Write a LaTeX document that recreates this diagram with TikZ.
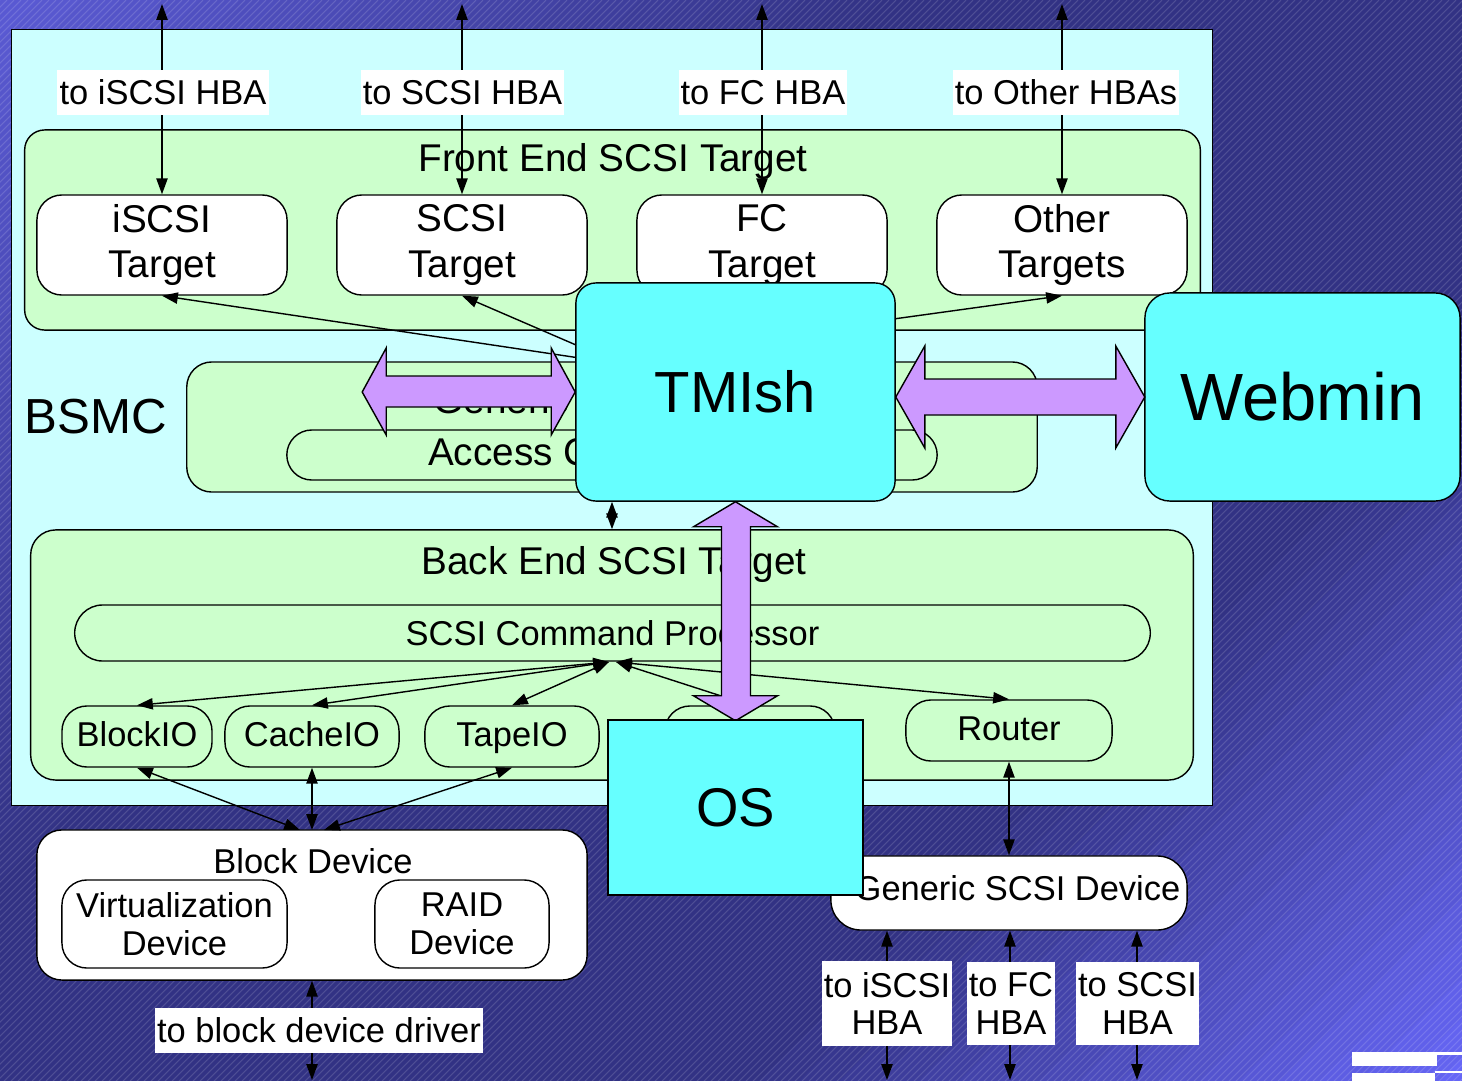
\documentclass[tikz,border=0pt]{standalone}
\usepackage{fontspec}
\setmainfont{Liberation Sans}
\usetikzlibrary{arrows.meta}

\definecolor{shellcyan}{HTML}{CCFFFF}
\definecolor{layergreen}{HTML}{CCFFCC}
\definecolor{mgmtcyan}{HTML}{66FFFF}
\definecolor{fatpurple}{HTML}{CC99FF}
\definecolor{bgtop}{RGB}{90,90,212}
\definecolor{bgmid}{RGB}{50,50,132}
\definecolor{bgbot}{RGB}{102,102,246}

\begin{document}
\begin{tikzpicture}[x=0.01cm, y=-0.01cm,
	>={Triangle[length=4.5pt,width=3.2pt]},
	every node/.style={inner sep=0pt, align=center, font=\fontsize{9.8}{10.8}\selectfont},
	shell/.style={draw=black, line width=0.4pt, fill=shellcyan},
	layer/.style={draw=black, line width=0.4pt, fill=layergreen, rounded corners=0.25cm},
	iobox/.style={layer, minimum height=0.61cm, text height=7pt, text depth=1.5pt},
	module/.style={draw=black, line width=0.4pt, fill=white, rounded corners=0.25cm},
	mgmt/.style={draw=black, line width=0.4pt, fill=mgmtcyan},
	hba/.style={fill=white, inner xsep=0.6pt, inner ysep=2.9pt, text height=7pt, text depth=0pt},
	hbapair/.style={fill=white, inner xsep=0.6pt, inner ysep=3pt},
	title/.style={anchor=base, font=\fontsize{11}{13}\selectfont},
	big/.style={font=\fontsize{11}{13}\selectfont},
	link/.style={line width=0.4pt, <->},
	oneway/.style={line width=0.4pt, ->},
	fat/.style={draw=black, line width=0.4pt, fill=fatpurple, line join=miter},
]
	% background
	\useasboundingbox (0,0) rectangle (1462,1081);
	\begin{scope}
		\clip (0,0) rectangle (1462,1081);
		\foreach \k in {0,...,31} {
			\pgfmathsetmacro{\s}{\k*40}
			\pgfmathtruncatemacro{\m}{min(100,100*((\k*40+20)/2543)/0.35)}
			\fill[bgmid!\m!bgtop] ({\s},0) -- ({\s+41},0) -- ({\s+41-1081},1081) -- ({\s-1081},1081) -- cycle;
		}
		\foreach \k in {32,...,63} {
			\pgfmathsetmacro{\s}{\k*40}
			\pgfmathtruncatemacro{\m}{min(100,100*(1-(\k*40+20)/2543)/0.28)}
			\fill[bgmid!\m!bgbot] ({\s},0) -- ({\s+41},0) -- ({\s+41-1081},1081) -- ({\s-1081},1081) -- cycle;
		}
		\foreach \i in {0,7,...,2548}
			\draw[white, opacity=0.14, line width=0.3pt] ({\i-1081},1081) -- (\i,0);
	\end{scope}
	\fill[white] (1352,1052) rectangle (1437,1066);
	\fill[white] (1437,1052) rectangle (1462,1055);
	\fill[white] (1435,1071) rectangle (1462,1073);
	\fill[white] (1352,1073) rectangle (1435,1081);

	% BSMC frame
	\node[shell, minimum width=12cm, minimum height=7.75cm] (bsmc) at (612,417.5) {};
	\node[anchor=base, font=\fontsize{14}{16}\selectfont] (bsmctext) at (96,433) {BSMC};

	% front end
	\node[layer, rounded corners=0.2cm, minimum width=11.75cm, minimum height=2cm] (frontend) at (612.5,230) {};
	\node[title] (fronttext) at (613,171) {Front End SCSI Target};
	\node[module, big, minimum width=2.5cm, minimum height=1cm] (iscsi) at (162,245) {iSCSI\\Target};
	\node[module, big, minimum width=2.5cm, minimum height=1cm] (scsi) at (462,245) {SCSI\\Target};
	\node[module, big, minimum width=2.5cm, minimum height=1cm] (fc) at (762,245) {FC\\Target};
	\node[module, big, minimum width=2.5cm, minimum height=1cm] (other) at (1062,245) {Other\\Targets};

	\coordinate (in1) at (162,4);
	\coordinate (in2) at (462,4);
	\coordinate (in3) at (762,4);
	\coordinate (in4) at (1062,4);
	\draw[link] (iscsi.north) -- (in1);
	\draw[link] (scsi.north) -- (in2);
	\draw[link] (fc.north) -- (in3);
	\draw[link] (other.north) -- (in4);
	\node[hba] (hba1) at (163,92.5) {to iSCSI HBA};
	\node[hba] (hba2) at (462.5,92.5) {to SCSI HBA};
	\node[hba] (hba3) at (763,92.5) {to FC HBA};
	\node[hba] (hba4) at (1066,92.5) {to Other HBAs};

	% generic layer
	\node[layer, minimum width=8.5cm, minimum height=1.3cm] (generic) at (612,427) {};
	\node[title, anchor=base west] (generictext) at (433,413) {Generic};
	\node[layer, big, minimum width=6.5cm, minimum height=0.5cm] (access) at (612,455) {Access Control Layer};

	\coordinate (tmin) at (620,364);
	\coordinate (tmout) at (850,325);
	\draw[oneway] (tmin) -- (iscsi.south);
	\draw[oneway] (tmin) -- (scsi.south);
	\draw[oneway] (tmout) -- (other.south);

	% management
	\node[mgmt, rounded corners=0.2cm, minimum width=3.19cm, minimum height=2.18cm, font=\fontsize{16.5}{19}\selectfont] (tmish) at (735.5,392) {TMIsh};
	\node[mgmt, rounded corners=0.25cm, minimum width=3.15cm, minimum height=2.08cm, font=\fontsize{19}{22}\selectfont] (webmin) at (1302.5,397) {Webmin};
	\draw[fat] (tmish.west) -- ++(-24,-44) -- ++(0,28) -- ++(-165,0) -- ++(0,-28) -- ++(-24,44)
		-- ++(24,43) -- ++(0,-28) -- ++(165,0) -- ++(0,28) -- cycle;
	\draw[fat] (tmish.east |- webmin.west) -- ++(29,-51) -- ++(0,33) -- ++(191,0) -- ++(0,-33) -- ++(29,51)
		-- ++(-29,51) -- ++(0,-33) -- ++(-191,0) -- ++(0,33) -- cycle;

	% back end
	\node[layer, minimum width=11.62cm, minimum height=2.5cm] (backend) at (612,655) {};
	\node[title] (backtext) at (614,574) {Back End SCSI Target};
	\node[layer, rounded corners=0.28cm, minimum width=10.75cm, minimum height=0.56cm] (cmdproc) at (612.5,633) {SCSI Command Processor};
	\node[iobox, minimum width=1.5cm] (blockio) at (137,736.5) {BlockIO};
	\node[iobox, minimum width=1.74cm] (cacheio) at (312,736.5) {CacheIO};
	\node[iobox, minimum width=1.74cm] (tapeio) at (512,736.5) {TapeIO};
	\node[iobox, minimum width=1.7cm] (hidden) at (750,736.5) {};
	\node[iobox, minimum width=2.06cm] (router) at (1009,730.5) {Router};

	\draw[link] (tmish.south -| backend.north) -- (backend.north);
	\coordinate (cpl) at (609,662);
	\coordinate (cpr) at (616,662);
	\draw[link] (cpl) -- (blockio.north);
	\draw[link] (cpl) -- (cacheio.north);
	\draw[link] (cpl) -- (tapeio.north);
	\draw[link] (cpr) -- (hidden.north);
	\draw[link] (cpr) -- (router.north);

	% block device
	\node[module, minimum width=5.5cm, minimum height=1.5cm] (blockdev) at (312,905) {};
	\node[anchor=base] (blockdevtext) at (313,873) {Block Device};
	\node[module, minimum width=2.25cm, minimum height=0.88cm] (virt) at (174.5,924) {Virtualization\\Device};
	\node[module, minimum width=1.74cm, minimum height=0.88cm] (raid) at (462,924) {RAID\\Device};
	\coordinate (bd1) at (300,830);
	\coordinate (bd2) at (312,830);
	\coordinate (bd3) at (324,830);
	\draw[link] (blockio.south) -- (bd1);
	\draw[link] (cacheio.south) -- (bd2);
	\draw[link] (tapeio.south) -- (bd3);
	\coordinate (drv) at (312,1080);
	\draw[link] (blockdev.south) -- (drv);
	\node[hba] (drvtext) at (319,1030.5) {to block device driver};

	% generic scsi device
	\node[module, rounded corners=0.3cm, minimum width=3.56cm, minimum height=0.74cm] (gendev) at (1009,893) {};
	\node[anchor=base] (gendevtext) at (1017.5,900) {Generic SCSI Device};
	\draw[link] (router.south) -- (gendev.north);
	\coordinate (out1) at (887,1080);
	\coordinate (out2) at (1010,1080);
	\coordinate (out3) at (1137,1080);
	\draw[link] (gendev.south -| out1) -- (out1);
	\draw[link] (gendev.south -| out2) -- (out2);
	\draw[link] (gendev.south -| out3) -- (out3);
	\node[hbapair] (hba5) at (887,1003.5) {to iSCSI\\HBA};
	\node[hbapair] (hba6) at (1011,1003.5) {to FC\\HBA};
	\node[hbapair] (hba7) at (1137.5,1003.5) {to SCSI\\HBA};

	% tmish to os
	\draw[fat] (tmish.south) -- ++(-42,25) -- ++(28,0) -- ++(0,169) -- ++(-28,0) -- ++(42,25)
		-- ++(42,-25) -- ++(-27,0) -- ++(0,-169) -- ++(27,0) -- cycle;
	\node[mgmt, minimum width=2.55cm, minimum height=1.75cm, font=\fontsize{15.5}{18}\selectfont] (os) at (735.5,807.5) {OS};
\end{tikzpicture}
\end{document}
